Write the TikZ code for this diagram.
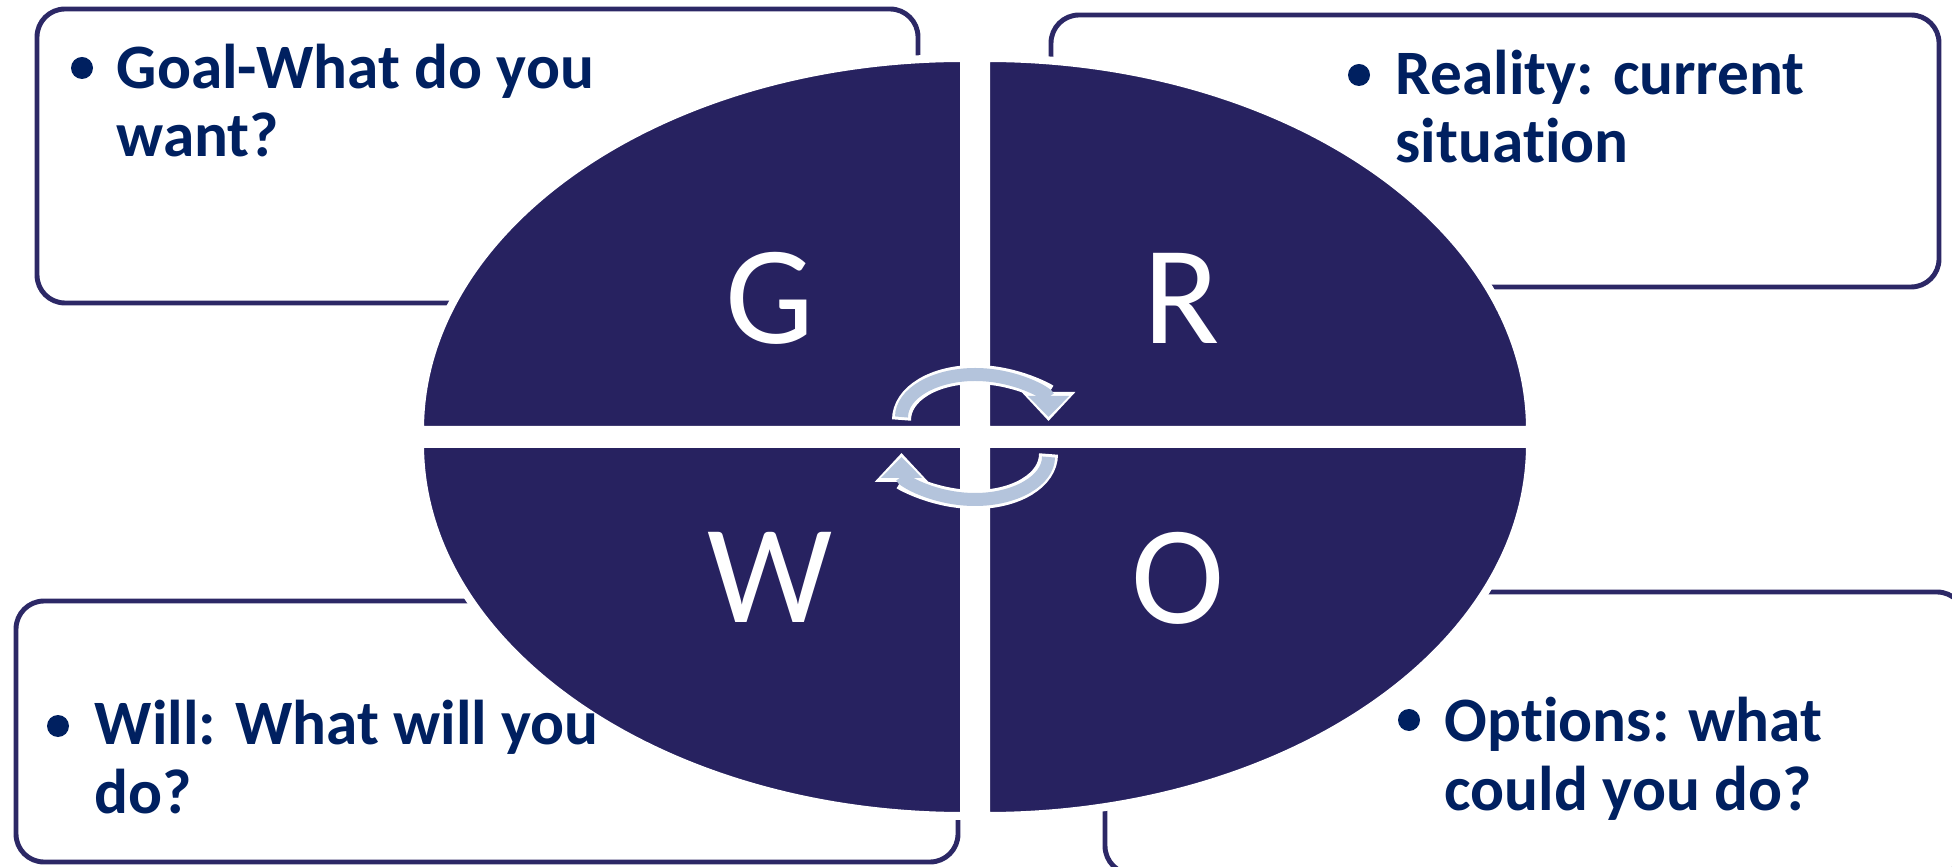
\documentclass[tikz,border=0pt]{standalone}
\usepackage{fontspec}
\setmainfont{Carlito}[Ligatures=NoCommon]
\usetikzlibrary{arrows.meta}

\definecolor{growblue}{RGB}{39,34,96}
\definecolor{boxline}{RGB}{44,40,102}
\definecolor{textnavy}{RGB}{0,32,96}
\definecolor{arrowblue}{RGB}{180,196,220}

% t und i ohne Ligatur
\newcommand{\tnolig}{t\kern0pt}

\tikzset{
	quad/.style={fill=growblue, draw=white, line width=0.08cm},
	infobox/.style={draw=boxline, line width=1.4pt, rounded corners=0.28cm},
	infotext/.style={text=textnavy, font=\fontsize{18}{19.4}\selectfont\bfseries, anchor=base west, align=left, inner sep=0pt},
	bigletter/.style={text=white, font=\fontsize{40}{44}\selectfont, inner sep=0pt},
}

\begin{document}
\begin{tikzpicture}
	\useasboundingbox (0,0) rectangle (19.52,8.66);
	
	% Rahmen der Textfelder
	\draw[infobox] (0.37,5.63) rectangle (9.18,8.57);
	\draw[infobox] (10.51,5.79) rectangle (19.39,8.51);
	\draw[infobox] (0.16,0.04) rectangle (9.58,2.65);
	\draw[infobox] (11.05,-0.08) rectangle (19.65,2.74);
	
	% Ellipse aus vier Vierteln
	\foreach \qx/\qy/\sa/\ea in {9.64/4.36/90/180, 9.86/4.36/0/90, 9.64/4.22/180/270, 9.86/4.22/270/360} {
		\filldraw[quad] (\qx,\qy) -- ++(\sa:5.44 and 3.72) arc[start angle=\sa, end angle=\ea, x radius=5.44, y radius=3.72] -- cycle;
	}
	
	% Buchstaben
	\node[bigletter] (g) at (7.70,5.68) {G};
	\node[bigletter] (r) at (11.82,5.68) {R};
	\node[bigletter] (w) at (7.70,2.89) {W};
	\node[bigletter] (o) at (11.78,2.88) {O};
	
	% Kreispfeile (weiss umrandet)
	\draw[white, line width=0.19cm, shorten <=-0.03cm, shorten >=-0.04cm, -{Triangle[width=0.52cm, length=0.29cm]}] (9.015,4.49) arc[start angle=180, end angle=0, x radius=0.735, y radius=0.425];
	\draw[arrowblue, line width=0.13cm, -{Triangle[width=0.4cm, length=0.21cm]}] (9.015,4.49) arc[start angle=180, end angle=0, x radius=0.735, y radius=0.425];
	\draw[white, line width=0.19cm, shorten <=-0.03cm, shorten >=-0.04cm, -{Triangle[width=0.52cm, length=0.29cm]}] (10.485,4.09) arc[start angle=0, end angle=-180, x radius=0.735, y radius=0.425];
	\draw[arrowblue, line width=0.13cm, -{Triangle[width=0.4cm, length=0.21cm]}] (10.485,4.09) arc[start angle=0, end angle=-180, x radius=0.735, y radius=0.425];
	
	% Texte mit Aufzaehlungspunkt (Anker auf letzter Zeile)
	\fill[textnavy] (0.82,7.98) circle (0.11);
	\node[infotext] (goal) at (1.16,7.09) {Goal-What do you\\want?};
	\fill[textnavy] (13.59,7.91) circle (0.11);
	\node[infotext] (reality) at (13.95,7.03) {Reality: current\\situa\tnolig ion};
	\fill[textnavy] (0.58,1.40) circle (0.11);
	\node[infotext] (will) at (0.94,0.53) {Will: What will you\\do?};
	\fill[textnavy] (14.09,1.46) circle (0.11);
	\node[infotext] (options) at (14.44,0.56) {Op\tnolig ions: what\\could you do?};
\end{tikzpicture}
\end{document}
